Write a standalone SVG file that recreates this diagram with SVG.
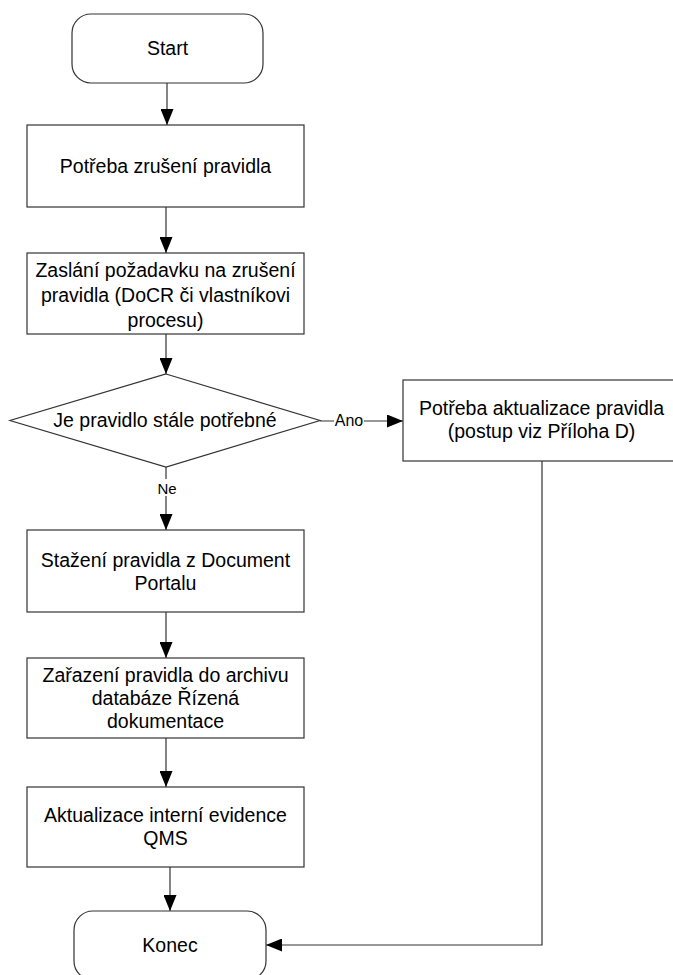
<svg xmlns="http://www.w3.org/2000/svg" width="673" height="975" viewBox="0 0 673 975">
  <style>
    .shape { fill: #ffffff; stroke: #333333; stroke-width: 1.2; }
    .txt { font-family: "Liberation Sans", Arial, sans-serif; font-size: 19.5px; fill: #000000; text-anchor: middle; }
    .lbl { font-family: "Liberation Sans", Arial, sans-serif; font-size: 16px; fill: #000000; text-anchor: middle; }
    .edge { fill: none; stroke: #333333; stroke-width: 1.2; }
  </style>
  <defs>
    <marker id="arrow" markerUnits="userSpaceOnUse" markerWidth="17" markerHeight="13" refX="16" refY="6.5" orient="auto">
      <path d="M0,0 L16,6.5 L0,13 Z" fill="#000000"/>
    </marker>
  </defs>

  <rect width="673" height="975" fill="#ffffff"/>

  <g id="connectors">
    <line class="edge" x1="167" y1="83" x2="167" y2="125" marker-end="url(#arrow)"/>
    <line class="edge" x1="166" y1="207" x2="166" y2="253" marker-end="url(#arrow)"/>
    <line class="edge" x1="166" y1="334" x2="166" y2="374" marker-end="url(#arrow)"/>
    <line class="edge" x1="320" y1="421" x2="403" y2="421" marker-end="url(#arrow)"/>
    <line class="edge" x1="166" y1="467" x2="166" y2="530" marker-end="url(#arrow)"/>
    <line class="edge" x1="166" y1="612" x2="166" y2="658" marker-end="url(#arrow)"/>
    <line class="edge" x1="166" y1="738" x2="166" y2="787" marker-end="url(#arrow)"/>
    <line class="edge" x1="170" y1="867" x2="170" y2="911" marker-end="url(#arrow)"/>
    <polyline class="edge" points="542,461 542,945 266,945" marker-end="url(#arrow)"/>
    <rect x="334" y="411" width="30" height="18" fill="#ffffff"/>
    <text class="lbl" x="349" y="426">Ano</text>
    <rect x="156" y="479" width="22" height="17" fill="#ffffff"/>
    <text class="lbl" x="167" y="494" style="font-size:15px">Ne</text>
  </g>

  <g id="start">
    <rect class="shape" x="72" y="14" width="191" height="69" rx="19" ry="19"/>
    <text class="txt" x="167.5" y="55">Start</text>
  </g>

  <g id="need-cancel">
    <rect class="shape" x="27" y="125" width="277" height="82"/>
    <text class="txt" x="165.5" y="173">Potřeba zrušení pravidla</text>
  </g>

  <g id="send-request">
    <rect class="shape" x="27" y="253" width="277" height="81"/>
    <text class="txt" x="165.5" y="277">Zaslání požadavku na zrušení</text>
    <text class="txt" x="165.5" y="302">pravidla (DoCR či vlastníkovi</text>
    <text class="txt" x="165.5" y="327">procesu)</text>
  </g>

  <g id="still-needed">
    <polygon class="shape" points="166,374 320,420.5 166,467 10,420.5"/>
    <text class="txt" x="165" y="427">Je pravidlo stále potřebné</text>
  </g>

  <g id="need-update">
    <rect class="shape" x="403" y="380" width="277" height="81"/>
    <text class="txt" x="541.5" y="415">Potřeba aktualizace pravidla</text>
    <text class="txt" x="541.5" y="438">(postup viz Příloha D)</text>
  </g>

  <g id="withdraw">
    <rect class="shape" x="27" y="530" width="277" height="82"/>
    <text class="txt" x="165.5" y="567">Stažení pravidla z Document</text>
    <text class="txt" x="165.5" y="590">Portalu</text>
  </g>

  <g id="archive">
    <rect class="shape" x="27" y="658" width="277" height="80"/>
    <text class="txt" x="165.5" y="682">Zařazení pravidla do archivu</text>
    <text class="txt" x="165.5" y="705">databáze Řízená</text>
    <text class="txt" x="165.5" y="728">dokumentace</text>
  </g>

  <g id="update-records">
    <rect class="shape" x="27" y="787" width="277" height="80"/>
    <text class="txt" x="165.5" y="822">Aktualizace interní evidence</text>
    <text class="txt" x="165.5" y="845">QMS</text>
  </g>

  <g id="end">
    <rect class="shape" x="74" y="911" width="192" height="69" rx="19" ry="19"/>
    <text class="txt" x="170" y="952">Konec</text>
  </g>
</svg>
